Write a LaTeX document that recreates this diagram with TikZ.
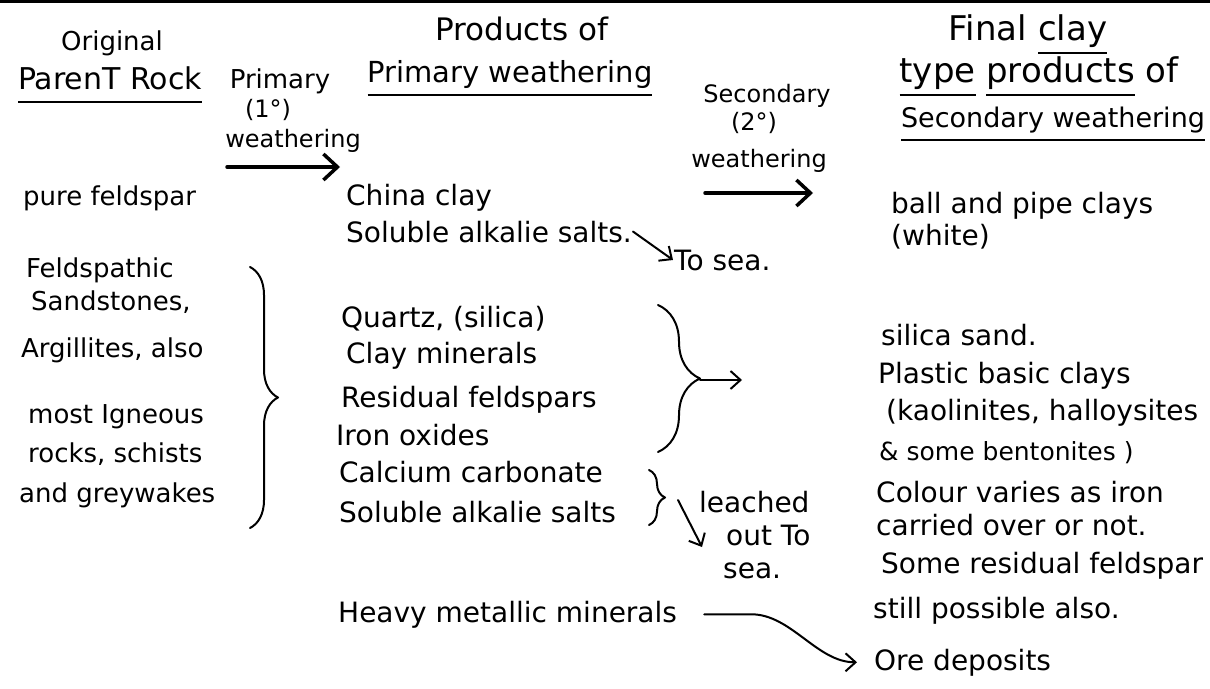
\documentclass[tikz,border=0pt]{standalone}
\usepackage{fontspec}
\setmainfont{DejaVu Sans}
\usetikzlibrary{arrows.meta}
\usetikzlibrary{decorations.pathreplacing}
\newsavebox{\undrbox}
\newcommand{\undr}[1]{\sbox{\undrbox}{#1}\rlap{\rule[-14pt]{\wd\undrbox}{1.7pt}}\usebox{\undrbox}}

\begin{document}
\begin{tikzpicture}[line cap=round,line join=round,x=1pt,y=-1pt,
  >={Straight Barb[length=10pt,width=18pt]},
  txt/.style={anchor=base west,inner sep=1pt,font=\fontsize{28}{32}\selectfont},
  lft/.style={txt,font=\fontsize{26}{30}\selectfont},
  hdr/.style={anchor=base,inner sep=1pt,font=\fontsize{28}{32}\selectfont},
  lab/.style={anchor=base,inner sep=1pt,font=\fontsize{24}{28}\selectfont},
  wthr/.style={line width=3.5pt,-{Straight Barb[length=14pt,width=26pt]}},
  lead/.style={line width=2pt,->},
  brc/.style={line width=2pt,decorate,decoration={brace,amplitude=#1}}]
\useasboundingbox (0,0) rectangle (1210,688);
\fill[white] (0,0) rectangle (1210,688);
\draw[line width=3.5pt] (0,1.5) -- (1210,1.5);

\node[hdr,font=\fontsize{26}{30}\selectfont] (orig) at (112,50) {Original};
\node[hdr,font=\fontsize{30}{34}\selectfont] (parent) at (110,89) {\undr{ParenT Rock}};
\node[lab,font=\fontsize{26}{30}\selectfont] (prim) at (280,88) {Primary};
\node[lab] (primdeg) at (268,117) {(1°)};
\node[lab] (primw) at (293,147) {weathering};
\coordinate (pa) at (227,167);
\coordinate (pb) at (340,167);
\draw[wthr] (pa) -- (pb);

\node[hdr,font=\fontsize{31}{36}\selectfont] (prod) at (522,40) {Products of};
\node[hdr,font=\fontsize{29}{34}\selectfont] (prodw) at (510,82) {\undr{Primary weathering}};
\node[lab] (sec) at (767,102) {Secondary};
\node[lab] (secdeg) at (754,130) {(2°)};
\node[lab] (secw) at (759,167) {weathering};
\coordinate (sa) at (705,193);
\coordinate (sb) at (813,193);
\draw[wthr] (sa) -- (sb);

\node[hdr,font=\fontsize{34}{38}\selectfont] (final) at (1028,40) {Final \undr{clay}};
\node[hdr,font=\fontsize{34}{38}\selectfont] (ftype) at (1039,82) {\undr{type} \undr{products} of};
\node[hdr,font=\fontsize{27}{32}\selectfont] (fsec) at (1053,127) {\undr{Secondary weathering}};

\node[lft] (pure) at (22,205) {pure feldspar};
\node[lft] (felds) at (25,277) {Feldspathic};
\node[lft] (sand) at (30,310) {Sandstones,};
\node[lft] (argil) at (20,357) {Argillites, also};
\node[lft] (ign) at (27,423) {most Igneous};
\node[lft] (schist) at (27,462) {rocks, schists};
\node[lft] (grey) at (18,502) {and greywakes};
\coordinate (lb1) at (250,267);
\coordinate (lb2) at (250,528);
\draw[brc=28pt] (lb1) -- (lb2);

\node[txt] (china) at (345,205) {China clay};
\node[txt] (sol1) at (345,242) {Soluble alkalie salts.};
\node[txt] (tosea) at (673,270) {To sea.};
\draw[lead] (sol1.east) -- (tosea.west);
\node[txt] (quartz) at (340,327) {Quartz, (silica)};
\node[txt] (claym) at (345,363) {Clay minerals};
\node[txt] (resid) at (340,407) {Residual feldspars};
\node[txt] (iron) at (335,445) {Iron oxides};
\node[txt] (calc) at (338,482) {Calcium carbonate};
\node[txt] (sol2) at (338,522) {Soluble alkalie salts};
\node[txt] (heavy) at (337,622) {Heavy metallic minerals};

\coordinate (mb1) at (658,305);
\coordinate (mb2) at (658,452);
\draw[brc=42pt] (mb1) -- (mb2);
\coordinate (mtip) at (700,380);
\coordinate (mend) at (742,380);
\draw[lead] (mtip) -- (mend);

\coordinate (sb1) at (649,470);
\coordinate (sb2) at (649,525);
\draw[brc=16pt] (sb1) -- (sb2);
\coordinate (lc1) at (678,500);
\coordinate (lc2) at (702,547);
\draw[lead] (lc1) -- (lc2);
\node[txt] (leach) at (698,512) {leached};
\node[txt] (outto) at (725,545) {out To};
\node[txt] (sea) at (722,578) {sea.};

\node[txt] (ore) at (873,670) {Ore deposits};
\draw[lead] ([xshift=26pt]heavy.east) -- ++(47,0) .. controls +(40,0) and +(-40,0) .. ([xshift=-16pt]ore.west);

\node[txt] (ball) at (890,213) {ball and pipe clays};
\node[txt] (white) at (890,245) {(white)};
\node[txt] (silica) at (880,345) {silica sand.};
\node[txt] (plastic) at (877,383) {Plastic basic clays};
\node[txt] (kaol) at (885,420) {(kaolinites, halloysites};
\node[txt,font=\fontsize{25}{30}\selectfont] (bent) at (878,460) {\& some bentonites )};
\node[txt] (colour) at (875,502) {Colour varies as iron};
\node[txt] (carried) at (875,535) {carried over or not.};
\node[txt] (some) at (880,573) {Some residual feldspar};
\node[txt] (still) at (872,618) {still possible also.};
\end{tikzpicture}
\end{document}
